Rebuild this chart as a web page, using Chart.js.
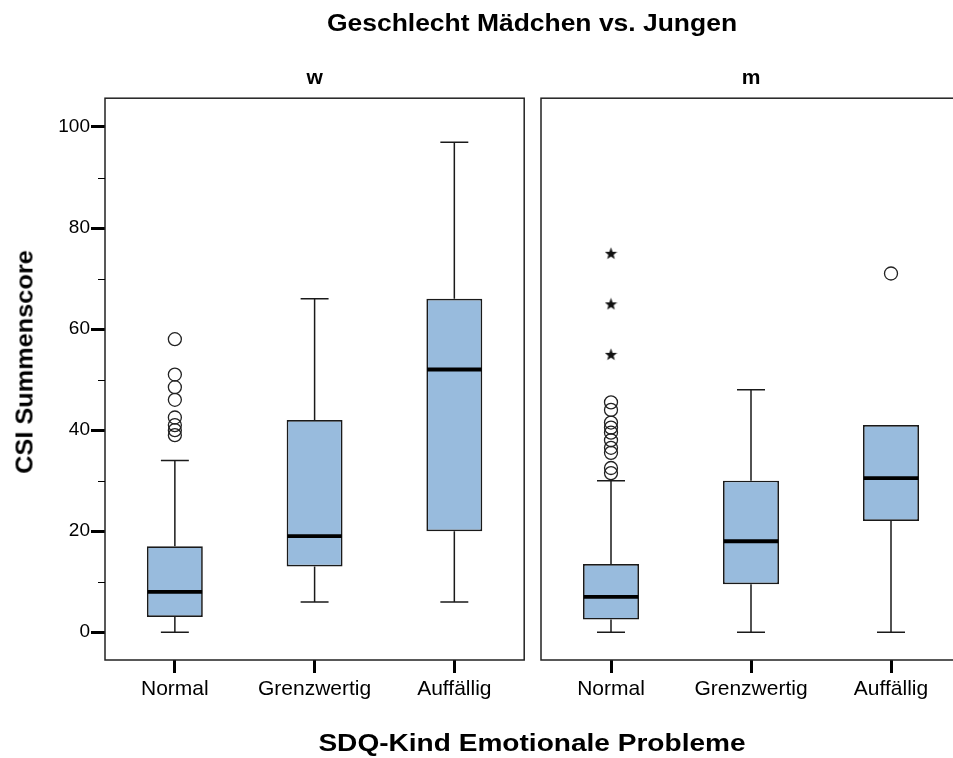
<!DOCTYPE html>
<html><head><meta charset="utf-8">
<script src="https://cdn.jsdelivr.net/npm/chart.js@4"></script>
<style>
html,body{margin:0;padding:0;background:#fff;overflow:hidden;width:953px;height:758px}
#wrap{position:relative;width:953px;height:758px;overflow:hidden;background:#fff}
canvas{position:absolute;top:0}
.t{position:absolute;font-family:"Liberation Sans",Arial,sans-serif;font-weight:bold;color:#000;white-space:nowrap}
</style></head><body>
<div id="wrap">
<canvas id="c1" width="532" height="758" style="left:0"></canvas>
<canvas id="c2" width="443" height="758" style="left:532px"></canvas>
<div class="t" id="mainTitle" style="left:532px;top:23px;font-size:23px;transform:translate(-50%,-50%) scaleX(1.15)">Geschlecht Mädchen vs. Jungen</div>
<div class="t" id="xTitle" style="left:532px;top:743px;font-size:23px;transform:translate(-50%,-50%) scaleX(1.22)">SDQ-Kind Emotionale Probleme</div>
<div class="t" id="yTitle" style="left:25px;top:362px;font-size:23px;transform:translate(-50%,-50%) rotate(-90deg) scaleX(1.1)">CSI Summenscore</div>
</div>
<script>
const categories = ['Normal', 'Grenzwertig', 'Auffällig'];
const yTicks = [0, 20, 40, 60, 80, 100];
const yMinorTicks = [10, 30, 50, 70, 90];
const panelTitles = ['w', 'm'];

// Panel w (Mädchen)
const wWhiskerLow  = [0, 6, 6];
const wQ1          = [3, 13, 20];
const wMedian      = [8, 19, 52];
const wQ3          = [17, 42, 66];
const wWhiskerHigh = [34, 66, 97];
const wOutliersNormal = [39, 40, 41, 42.5, 46, 48.5, 51, 58];

// Panel m (Jungen)
const mWhiskerLow  = [0, 0, 0];
const mQ1          = [2.5, 9.5, 22];
const mMedian      = [7, 18, 30.5];
const mQ3          = [13.5, 30, 41];
const mWhiskerHigh = [30, 48, 41];
const mOutliersNormal = [31.5, 32.5, 35.5, 36.5, 38, 39.5, 40.5, 41.5, 44, 45.5];
const mOutliersAuffaellig = [71];
const mExtremesNormal = [55, 65, 75];

const FONT = '"Liberation Sans", Arial, sans-serif';
const BOX_FILL = '#98bbdd';
const INK = '#1a1a1a';

function makeStar(size) {
  const c = document.createElement('canvas');
  c.width = size; c.height = size;
  const g = c.getContext('2d');
  g.fillStyle = '#111';
  g.beginPath();
  const cx = size / 2, cy = size / 2 + 0.6, R = size / 2, r = R * 0.42;
  for (let k = 0; k < 10; k++) {
    const a = -Math.PI / 2 + k * Math.PI / 5;
    const rad = k % 2 ? r : R;
    g.lineTo(cx + rad * Math.cos(a), cy + rad * Math.sin(a));
  }
  g.closePath(); g.fill();
  return c;
}
const starImg = makeStar(13);

function pts(cat, vals) { return vals.map(v => ({ x: cat, y: v })); }

const boxPlugin = {
  id: 'boxWhiskers',
  beforeDatasetsDraw(chart, args, opts) {
    const st = opts.stats; if (!st) return;
    const ctx = chart.ctx, xs = chart.scales.x, ys = chart.scales.y;
    const meta = chart.getDatasetMeta(0);
    ctx.save();
    ctx.strokeStyle = INK; ctx.lineWidth = 1.5;
    categories.forEach((c, i) => {
      const bar = meta.data[i];
      const x = xs.getPixelForValue(i);
      const cap = bar.width / 4;
      const yl = ys.getPixelForValue(st.low[i]), y1 = ys.getPixelForValue(st.q1[i]);
      const y3 = ys.getPixelForValue(st.q3[i]), yh = ys.getPixelForValue(st.high[i]);
      ctx.beginPath();
      if (st.low[i] < st.q1[i]) {
        ctx.moveTo(x, y1); ctx.lineTo(x, yl);
        ctx.moveTo(x - cap, yl); ctx.lineTo(x + cap, yl);
      }
      if (st.high[i] > st.q3[i]) {
        ctx.moveTo(x, y3); ctx.lineTo(x, yh);
        ctx.moveTo(x - cap, yh); ctx.lineTo(x + cap, yh);
      }
      ctx.stroke();
    });
    ctx.restore();
  },
  afterDatasetsDraw(chart, args, opts) {
    const st = opts.stats; if (!st) return;
    const ctx = chart.ctx, xs = chart.scales.x, ys = chart.scales.y, a = chart.chartArea;
    const meta = chart.getDatasetMeta(0);
    ctx.save();
    ctx.strokeStyle = '#000'; ctx.lineWidth = 3.8;
    categories.forEach((c, i) => {
      const bar = meta.data[i];
      const x = xs.getPixelForValue(i);
      const y = ys.getPixelForValue(st.med[i]);
      ctx.beginPath();
      ctx.moveTo(x - bar.width / 2 + 0.7, y); ctx.lineTo(x + bar.width / 2 - 0.7, y);
      ctx.stroke();
    });
    ctx.strokeStyle = '#222'; ctx.lineWidth = 1.5;
    ctx.strokeRect(a.left, a.top, a.right - a.left, a.bottom - a.top);
    if (opts.minor) {
      ctx.lineWidth = 1; ctx.strokeStyle = '#000';
      yMinorTicks.forEach(v => {
        const y = Math.round(ys.getPixelForValue(v)) + 0.5;
        ctx.beginPath(); ctx.moveTo(a.left - 7, y); ctx.lineTo(a.left, y); ctx.stroke();
      });
    }
    ctx.restore();
  }
};

function makeChart(canvasId, title, st, scatterSets, showY, padLeft, padRight) {
  const datasets = [{
    type: 'bar',
    data: categories.map((c, i) => [st.q1[i], st.q3[i]]),
    backgroundColor: BOX_FILL,
    borderColor: INK,
    borderWidth: 1.7,
    borderSkipped: false,
    barPercentage: 0.4,
    categoryPercentage: 1.0,
    order: 2
  }].concat(scatterSets.map(s => Object.assign({
    type: 'scatter',
    backgroundColor: 'rgba(0,0,0,0)',
    borderColor: '#222',
    borderWidth: 1.3,
    pointRadius: 6.5,
    order: 1
  }, s)));

  return new Chart(document.getElementById(canvasId), {
    type: 'bar',
    data: { labels: categories, datasets },
    options: {
      responsive: false,
      animation: false,
      events: [],
      layout: { padding: { left: padLeft, right: padRight, top: 0, bottom: 0 } },
      plugins: {
        legend: { display: false },
        tooltip: { enabled: false },
        title: {
          display: true, text: title, color: '#000', fullSize: false,
          font: { family: FONT, size: 21, weight: 'bold' },
          padding: { top: 66, bottom: 7 }
        },
        boxWhiskers: { stats: st, minor: showY }
      },
      scales: {
        x: {
          type: 'category',
          offset: true,
          border: { display: false },
          grid: { display: true, offset: false, drawOnChartArea: false, drawTicks: true,
                  tickLength: 13, tickWidth: 3, tickColor: '#000' },
          ticks: { color: '#000', font: { family: FONT, size: 21 }, padding: 4, maxRotation: 0, autoSkip: false },
          afterFit(s) { s.height = 98; }
        },
        y: {
          type: 'linear',
          display: showY,
          min: -5.5, max: 105.7,
          border: { display: false },
          grid: { display: true, drawOnChartArea: false, drawTicks: true,
                  tickLength: 14, tickWidth: 3, tickColor: '#000' },
          ticks: { color: '#000', font: { family: FONT, size: 19 }, padding: 1 },
          afterBuildTicks(s) { s.ticks = yTicks.map(v => ({ value: v })); },
          afterFit(s) { if (showY) s.width = 105; }
        }
      }
    },
    plugins: [boxPlugin]
  });
}

makeChart('c1', panelTitles[0],
  { low: wWhiskerLow, q1: wQ1, med: wMedian, q3: wQ3, high: wWhiskerHigh },
  [ { data: pts(categories[0], wOutliersNormal), pointStyle: 'circle' } ],
  true, 0, 7);

makeChart('c2', panelTitles[1],
  { low: mWhiskerLow, q1: mQ1, med: mMedian, q3: mQ3, high: mWhiskerHigh },
  [ { data: pts(categories[0], mOutliersNormal), pointStyle: 'circle' },
    { data: pts(categories[2], mOutliersAuffaellig), pointStyle: 'circle' },
    { data: pts(categories[0], mExtremesNormal), pointStyle: starImg } ],
  false, 9, 14);
</script>
</body></html>
